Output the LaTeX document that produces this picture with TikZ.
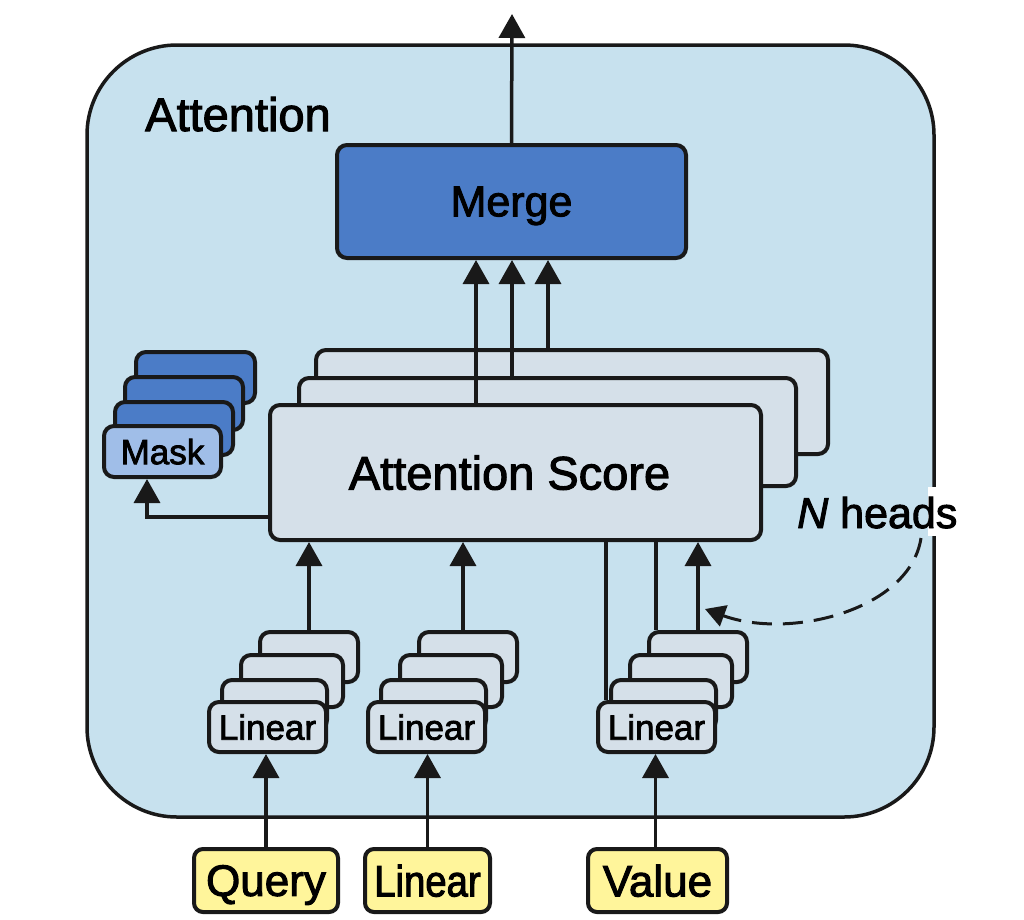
\documentclass[tikz,border=0pt]{standalone}
\usepackage{fontspec}
\setmainfont{Liberation Sans}[FakeBold=2.2]
\usetikzlibrary{arrows.meta}
\definecolor{outerblue}{HTML}{C7E1EE}
\definecolor{lightbox}{HTML}{D5E0E9}
\definecolor{mergeblue}{HTML}{4B7CC7}
\definecolor{maskfront}{HTML}{A0BEE8}
\definecolor{inyellow}{HTML}{FFF59B}
\tikzset{
  bx/.style={draw=black!90, line width=4pt, rounded corners=10pt, inner sep=0pt, anchor=center, text depth=0pt},
  lbox/.style={bx, fill=lightbox},
  bbox/.style={bx, fill=mergeblue},
  ybox/.style={bx, fill=inyellow, rounded corners=9pt},
  arr/.style={draw=black!90, line width=3.5pt, -{Triangle[width=26pt,length=24pt]}},
  ln/.style={draw=black!90, line width=3.5pt},
  fbig/.style={font=\fontsize{47}{50}\selectfont},
  fmid/.style={font=\fontsize{43}{46}\selectfont},
  fin/.style={font=\fontsize{44}{46}\selectfont},
  fsmall/.style={font=\fontsize{35}{38}\selectfont},
}
\begin{document}
\begin{tikzpicture}[x=1pt,y=-1pt]
\useasboundingbox (0,0) rectangle (1024,919);
\fill[white] (0,0) rectangle (1024,919);
% outer container
\node[draw=black!90, line width=3.5pt, fill=outerblue, rounded corners=90pt, minimum width=847pt, minimum height=772pt, inner sep=0pt] (outer) at (510.5,431) {};
\node[fbig, anchor=base west, inner sep=0pt] (title) at (145,131) {Attention};
% gap in border at N heads
\fill[white] (928,487) rectangle (940,536);
% merge
\node[bbox, minimum width=349pt, minimum height=113pt, fmid] (merge) at (511.5,201.5) {Merge};
\coordinate (out) at (512,14);
\draw[arr] (merge.north) -- (out);
% attention score stack
\node[lbox, minimum width=512pt, minimum height=104pt] (att3) at (572,402) {};
\node[lbox, minimum width=497pt, minimum height=108pt] (att2) at (547.5,432) {};
\node[lbox, minimum width=491pt, minimum height=135pt, fbig] (att1) at (515.5,472.5) {\hspace*{-12pt}Attention Score};
\coordinate (mx1) at (476,0);
\coordinate (mx2) at (512,0);
\coordinate (mx3) at (548,0);
\draw[arr] (att1.north -| mx1) -- (merge.south -| mx1);
\draw[arr] (att2.north -| mx2) -- (merge.south -| mx2);
\draw[arr] (att3.north -| mx3) -- (merge.south -| mx3);
% mask stack
\node[bbox, minimum width=119pt, minimum height=51pt] (mask4) at (195.5,377.5) {};
\node[bbox, minimum width=118pt, minimum height=53pt] (mask3) at (184,403.5) {};
\node[bbox, minimum width=118pt, minimum height=53pt] (mask2) at (174,428.5) {};
\node[bx, fill=maskfront, minimum width=117pt, minimum height=51pt, fsmall] (mask1) at (162.5,451.5) {Mask};
\coordinate (mk) at (147,517);
\draw[arr] (att1.west |- mk) -- (mk) -- (mask1.south -| mk);
% linear stacks
\foreach \g/\x in {q/209,k/368,v/598}{
  \node[lbox, minimum width=98pt, minimum height=50pt] (l\g4) at (\x+100,657) {};
  \node[lbox, minimum width=102pt, minimum height=52pt] (l\g3) at (\x+83,681) {};
  \node[lbox, minimum width=105pt, minimum height=50pt] (l\g2) at (\x+65.5,705) {};
  \node[lbox, minimum width=117pt, minimum height=50pt, fsmall] (l\g1) at (\x+58.5,727) {Linear};
}
% inputs
\node[ybox, minimum width=144pt, minimum height=63pt, fin] (inq) at (266,880.5) {Query};
\node[ybox, minimum width=125pt, minimum height=63pt, fin] (ink) at (427.5,880.5) {\addfontfeature{FakeStretch=0.87}Linear};
\node[ybox, minimum width=139pt, minimum height=63pt, fin] (inv) at (657.5,880.5) {Value};
\draw[arr] (inq.north) -- (inq.north |- lq1.south);
\draw[arr] (ink.north) -- (ink.north |- lk1.south);
\draw[arr] ([xshift=-2pt]inv.north) -- ([xshift=-2pt]inv.north |- lv1.south);
% linear to attention
\draw[arr] (lq4.north) -- (lq4.north |- att1.south);
\draw[arr] ([xshift=-5pt]lk4.north) -- ([xshift=-5pt]lk4.north |- att1.south);
\coordinate (vx1) at (606,0);
\coordinate (vx2) at (656,0);
\draw[ln] (lv1.north -| vx1) -- (att1.south -| vx1);
\draw[ln] (lv4.north -| vx2) -- (att1.south -| vx2);
\draw[arr] (lv4.north) -- (lv4.north |- att1.south);
% N heads
\node[fmid, anchor=base west, inner sep=0pt] (nh) at (797,528) {\itshape N\upshape{} heads};
\coordinate (dtip) at (705,609);
\draw[draw=black!90, line width=3pt, dash pattern=on 20pt off 11pt, -{Triangle[width=22pt,length=20pt]}] (921,538) .. controls (910,610) and (790,640) .. (dtip);
\end{tikzpicture}
\end{document}
